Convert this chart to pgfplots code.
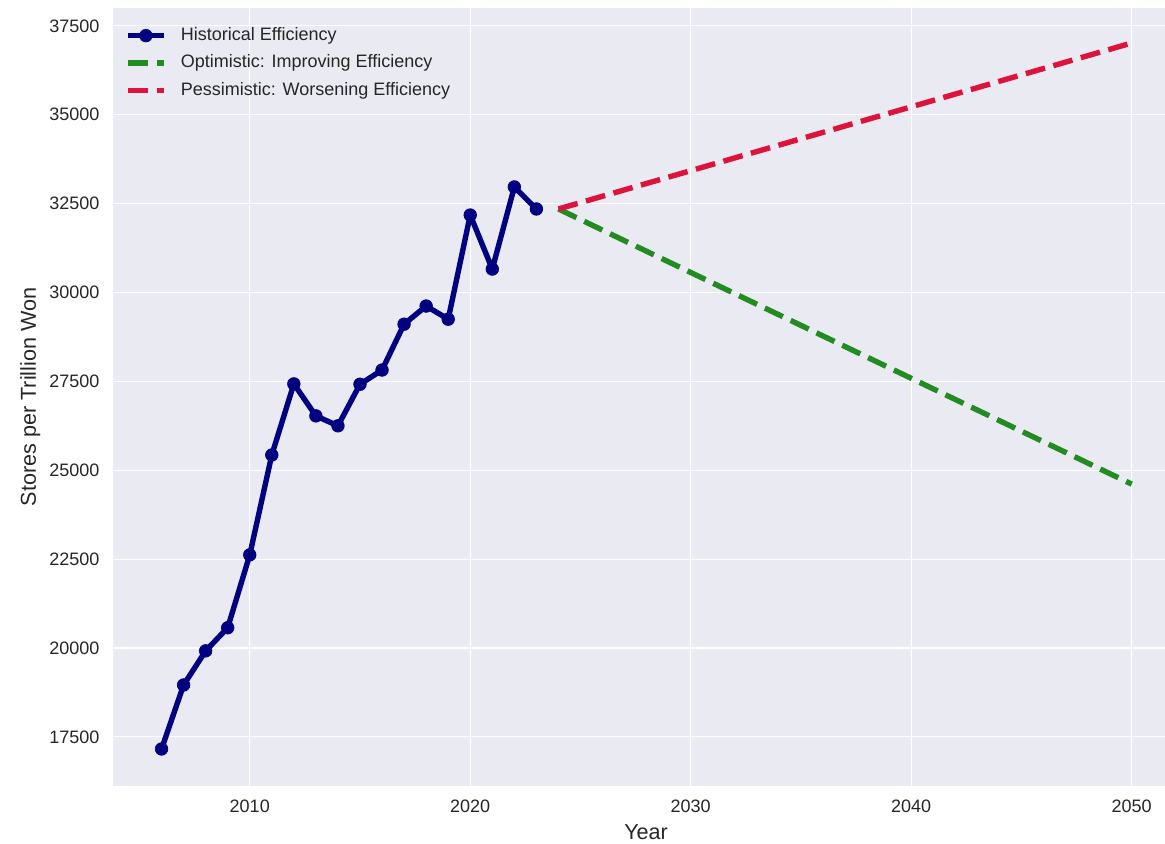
\documentclass[border=0pt]{standalone}
\usepackage{fontspec}
\setmainfont{Liberation Sans}
\usepackage{pgfplots}
\pgfplotsset{compat=1.18}
\definecolor{bgc}{HTML}{EAEAF2}
\definecolor{txtc}{HTML}{262626}
\definecolor{navyc}{HTML}{000080}
\definecolor{greenc}{HTML}{228B22}
\definecolor{redc}{HTML}{DC143C}
\begin{document}
\begin{tikzpicture}
\begin{axis}[
    name=ax,
    scale only axis,
    width=584.4pt, height=432.2pt,
    xmin=2003.8, xmax=2051.51,
    ymin=16121, ymax=38006,
    axis background/.style={fill=bgc},
    axis line style={draw=none},
    major tick length=0pt,
    grid=major,
    major grid style={white, line width=0.6pt},
    xtick={2010,2020,2030,2040,2050},
    ytick={17500,20000,22500,25000,27500,30000,32500,35000,37500},
    scaled ticks=false,
    /pgf/number format/assume math mode=true,
    /pgf/number format/1000 sep={},
    ticklabel style={font=\fontsize{10}{12}\selectfont, text=txtc},
    xticklabel style={yshift=-4pt},
    yticklabel style={xshift=-4pt},
    xlabel={Year},
    ylabel={Stores per Trillion Won},
    label style={font=\fontsize{12}{14}\selectfont, text=txtc},
    x label style={at={(axis description cs:0.5067,0)}, anchor=center, yshift=-25.5pt},
    y label style={at={(axis description cs:-0.0787,0.5)}, anchor=center},
    legend cell align=left,
    legend style={at={(axis description cs:0,1)}, anchor=north west,
        xshift=6.6pt, yshift=-10.7pt, draw=none, fill=none, inner sep=0pt,
        font=\fontsize{10}{12}\selectfont, text=txtc, row sep=6.3pt, column sep=8pt,
        nodes={inner sep=0pt, text height=7pt, text depth=2pt}},
    legend image code/.code={\draw[mark repeat=2,mark phase=2] plot coordinates {(0cm,0cm) (0.35cm,0cm) (0.7cm,0cm)};},
]
\addplot[navyc, line width=3pt, line join=round, mark=*, mark size=3.5pt, mark options={solid, fill=navyc, line width=0.4pt}] coordinates {
    (2006,17160) (2007,18960) (2008,19920) (2009,20570) (2010,22620)
    (2011,25430) (2012,27430) (2013,26530) (2014,26250) (2015,27420)
    (2016,27820) (2017,29110) (2018,29620) (2019,29250) (2020,32180)
    (2021,30660) (2022,32970) (2023,32350)};
\addlegendentry{Historical Efficiency}
\addplot[greenc, line width=3pt, dash pattern=on 11.1pt off 4.8pt] coordinates {(2024,32350) (2050,24610)};
\addlegendentry{Optimistic: Improving Efficiency}
\addplot[redc, line width=3pt, dash pattern=on 11.1pt off 4.8pt] coordinates {(2024,32350) (2050,37020)};
\addlegendentry{Pessimistic: Worsening Efficiency}
\end{axis}
\pgfresetboundingbox
\useasboundingbox ([shift={(-62.8pt,-32.2pt)}]ax.south west) rectangle ([shift={(0pt,4.4pt)}]ax.north east);
\end{tikzpicture}
\end{document}
